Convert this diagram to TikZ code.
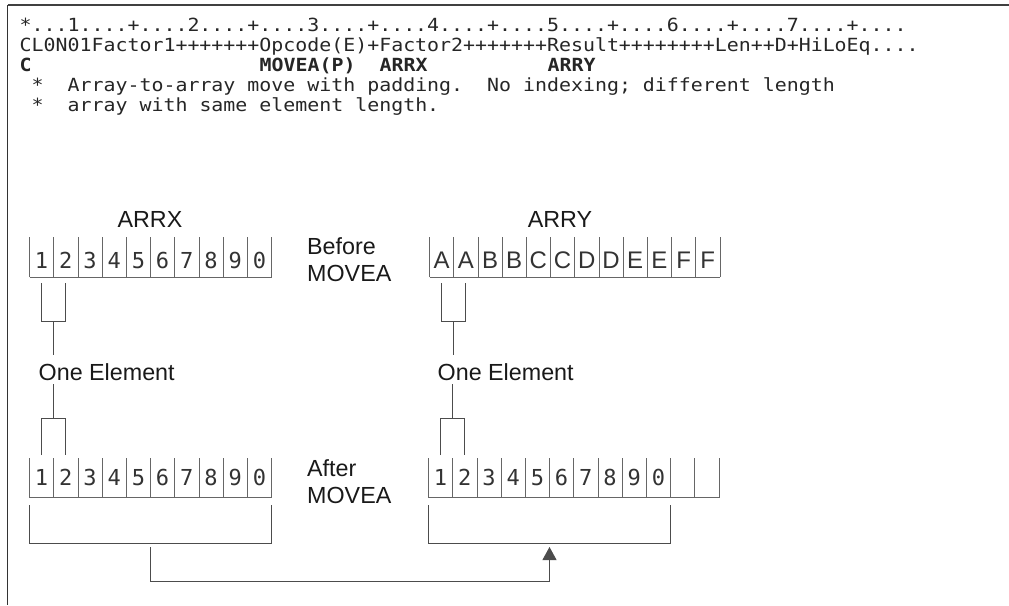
\documentclass[tikz,border=0pt]{standalone}
\usepackage{fontspec}
\usepackage{tikz}
\usetikzlibrary{arrows.meta}
\newfontfamily\codefont[FakeStretch=1.1]{DejaVu Sans Mono}
\newfontfamily\cellfont{DejaVu Sans Mono}
\newfontfamily\capfont{Liberation Sans}

\begin{document}
\begin{tikzpicture}[x=1pt,y=-1pt,
    codeline/.style={anchor=base west,inner sep=0pt,text=black!85,font=\codefont\fontsize{18.1}{20}\selectfont\frenchspacing},
    captiontext/.style={anchor=base west,inner sep=0pt,text=black!90,font=\capfont\fontsize{23.3}{28}\selectfont},
    celldigit/.style={anchor=base,inner sep=0pt,text=black!80,font=\cellfont\fontsize{22}{26}\selectfont},
    cellletter/.style={anchor=base,inner sep=0pt,text=black!80,font=\capfont\fontsize{24}{28}\selectfont},
    cellline/.style={line width=0.8pt,black!60},
    wire/.style={line width=0.9pt,black!70}]
    \useasboundingbox (0,0) rectangle (1009,605);
    % frame
    \draw[line width=1.6pt,black!75](7.5,5)--(1009,5);
    \draw[line width=1.2pt,black!80](7.5,5)--(7.5,605);
    % code lines
    \node[codeline] (ruler) at (19.5,31.5) {*...1....+....2....+....3....+....4....+....5....+....6....+....7....+....};
    \node[codeline] (prompt) at (19.5,51) {CL0N01Factor1+++++++Opcode(E)+Factor2+++++++Result++++++++Len++D+HiLoEq....};
    \node[codeline] (opC) at (19.5,71) {\bfseries C};
    \node[codeline] (opMove) at (259.5,71) {\bfseries MOVEA(P)};
    \node[codeline] (opFac) at (379.5,71) {\bfseries ARRX};
    \node[codeline] (opRes) at (547.5,71) {\bfseries ARRY};
    \node[codeline] (noteA) at (31.5,91) {*\ \ Array-to-array move with padding.\ \ No indexing; different length};
    \node[codeline] (noteB) at (31.5,111) {*\ \ array with same element length.};
    % array names and captions
    \node[captiontext,anchor=base] (arrx) at (150,227.5) {ARRX};
    \node[captiontext,anchor=base] (arry) at (560,227.5) {ARRY};
    \node[captiontext] (before) at (307,254) {Before};
    \node[captiontext] (beforeMove) at (307,281) {MOVEA};
    \node[captiontext] (after) at (307,476) {After};
    \node[captiontext] (afterMove) at (307,503) {MOVEA};
    % ARRX before
    \draw[cellline](29.5,277)--(271.5,277);
    \foreach \i in {0,...,10} \draw[cellline](29.5+24.2*\i,237)--(29.5+24.2*\i,277);
    \foreach \d [count=\i from 0] in {1,2,3,4,5,6,7,8,9,0}
        \node[celldigit] (xb\i) at (41.6+24.2*\i,268) {\d};
    % ARRY before
    \draw[cellline](429.5,277)--(719.9,277);
    \foreach \i in {0,...,12} \draw[cellline](429.5+24.2*\i,237)--(429.5+24.2*\i,277);
    \foreach \c [count=\i from 0] in {A,A,B,B,C,C,D,D,E,E,F,F}
        \node[cellletter] (yb\i) at (441.6+24.2*\i,268) {\c};
    % ARRX after
    \draw[cellline](29.5,497.5)--(271.5,497.5);
    \foreach \i in {0,...,10} \draw[cellline](29.5+24.2*\i,458)--(29.5+24.2*\i,497.5);
    \foreach \d [count=\i from 0] in {1,2,3,4,5,6,7,8,9,0}
        \node[celldigit] (xa\i) at (41.6+24.2*\i,485.5) {\d};
    % ARRY after
    \draw[cellline](428.5,497.5)--(718.9,497.5);
    \foreach \i in {0,...,12} \draw[cellline](428.5+24.2*\i,458)--(428.5+24.2*\i,497.5);
    \foreach \d [count=\i from 0] in {1,2,3,4,5,6,7,8,9,0}
        \node[celldigit] (ya\i) at (440.6+24.2*\i,485.5) {\d};
    % one element, left
    \node[captiontext] (oneX) at (38.5,380) {One Element};
    \draw[wire](41.6,283)|-(65.8,321)--(65.8,283);
    \draw[wire](53.7,321)--(53.7,355);
    \draw[wire](53.7,384)--(53.7,418);
    \draw[wire](41.6,455)|-(65.8,418)--(65.8,455);
    % one element, right
    \node[captiontext] (oneY) at (437.5,380) {One Element};
    \draw[wire](441.6,283)|-(465.8,321)--(465.8,283);
    \draw[wire](453.7,321)--(453.7,355);
    \draw[wire](452.7,384)--(452.7,418);
    \draw[wire](440.6,455)|-(464.8,418)--(464.8,455);
    % spans and move arrow
    \draw[wire](29.5,505)|-(271.5,543)--(271.5,505);
    \draw[wire](428.5,505)|-(670.5,543)--(670.5,505);
    \coordinate (spanX) at (150.5,547);
    \coordinate (turnX) at (150.5,581);
    \coordinate (spanY) at (549.5,547);
    \draw[wire,-{Stealth[length=13pt,width=14pt,inset=0pt]}](spanX)--(turnX)-|(spanY);
\end{tikzpicture}
\end{document}
